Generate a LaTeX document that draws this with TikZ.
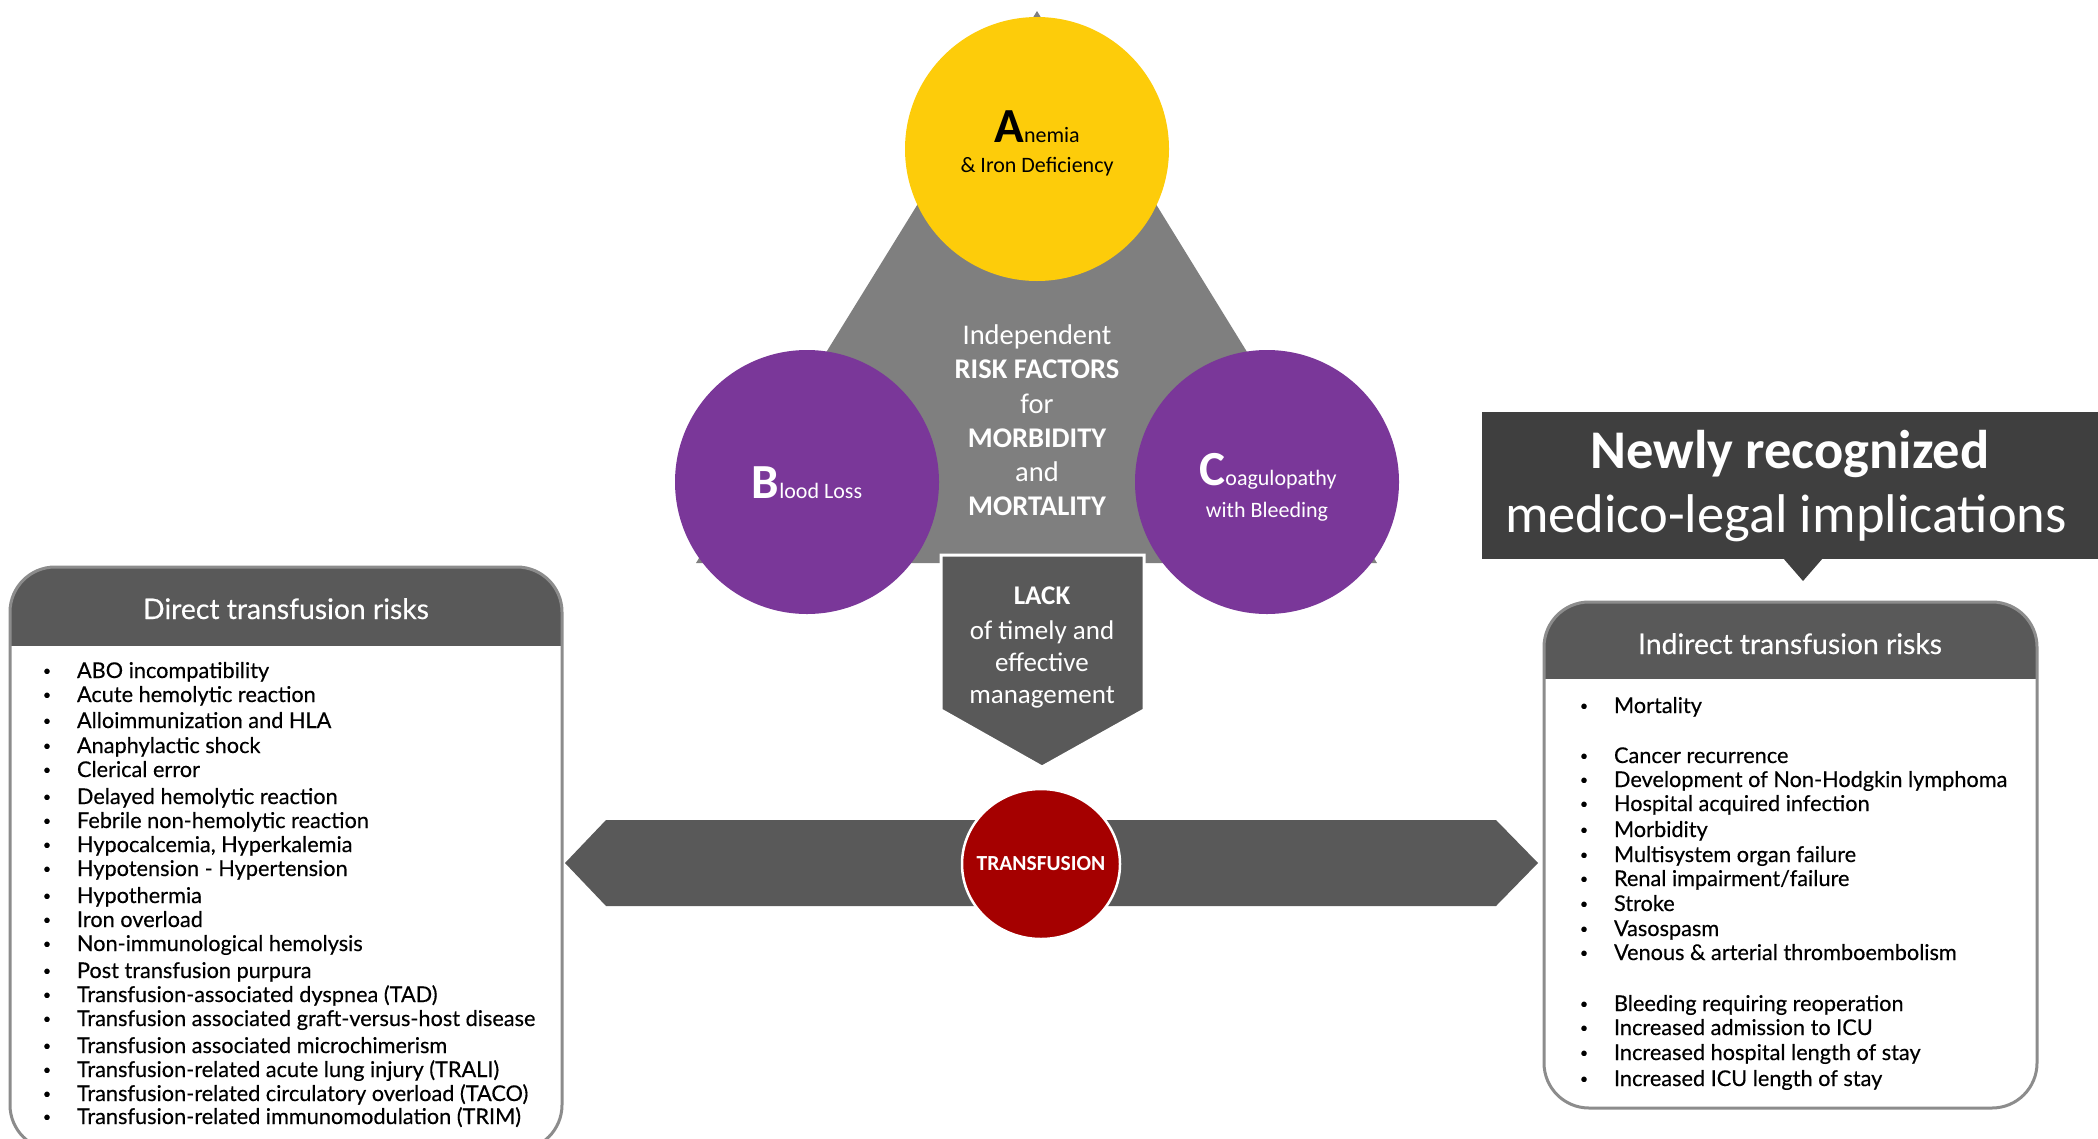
\documentclass[tikz,border=0pt]{standalone}
\usepackage{fontspec}
\setmainfont{Carlito}
\newfontfamily\listfont{Lato}[FakeBold=0.35]
\usetikzlibrary{shapes.geometric}
\definecolor{trigray}{HTML}{7F7F7F}
\definecolor{anemiayellow}{HTML}{FDCC0A}
\definecolor{riskpurple}{HTML}{7A3799}
\definecolor{darkbox}{HTML}{595959}
\definecolor{titlebox}{HTML}{3F3F3F}
\definecolor{framegray}{HTML}{8C8C8C}
\definecolor{bloodred}{HTML}{A50000}
\newcommand\fsz[1]{\fontsize{#1}{#1}\selectfont}

\begin{document}
\begin{tikzpicture}[x=1pt,y=-1pt,
  every node/.style={inner sep=0pt, outer sep=0pt},
  riskcircle/.style={circle, minimum size=264pt},
  ctext/.style={anchor=base, font=\fsz{28.5}, text=white},
  mtext/.style={anchor=base, font=\fsz{27}, text=white},
  bul/.style={anchor=base, font=\listfont\fsz{14}},
  item/.style={anchor=base west, font=\listfont\fsz{21.7}},
  headtext/.style={anchor=base, text=white, font=\listfont\fsz{28.3}},
  boxframe/.style={draw=framegray, line width=3pt, rounded corners=45pt}]
\useasboundingbox (0,0) rectangle (2098,1138);
\clip (0,0) rectangle (2098,1138);

% risk triangle with the three factors
\fill[trigray] (1037,11) -- (1377,563) -- (696,563) -- cycle;
\node[riskcircle, fill=anemiayellow] (anemia) at (1037,149) {};
\node[riskcircle, fill=riskpurple] (blood) at (807,482) {};
\node[riskcircle, fill=riskpurple] (coag) at (1267,482) {};

\node[anchor=base] (anemia1) at (1037,142) {{\bfseries\fsz{49}A}\fsz{22}nemia};
\node[anchor=base] (anemia2) at (1037,172) {\fsz{22}\& Iron Deficiency};
\node[anchor=base, text=white] (blood1) at (807,498) {{\bfseries\fsz{49}B}\fsz{22}lood Loss};
\node[anchor=base, text=white] (coag1) at (1268,485) {{\bfseries\fsz{49}C}\fsz{22}oagulopathy};
\node[anchor=base, text=white] (coag2) at (1267,517) {\fsz{22}with Bleeding};

\node[ctext] (r1) at (1037,344) {Independent};
\node[ctext] (r2) at (1037,378) {\bfseries RISK FACTORS};
\node[ctext] (r3) at (1037,413) {for};
\node[ctext] (r4) at (1037,447) {\bfseries MORBIDITY};
\node[ctext] (r5) at (1037,481) {and};
\node[ctext] (r6) at (1037,515) {\bfseries MORTALITY};

% lack of management arrow
\filldraw[fill=darkbox, draw=white, line width=3pt]
  (941,555) -- (1144,555) -- (1144,710) -- (1042,767) -- (941,710) -- cycle;
\node[mtext] (m1) at (1042,604) {\bfseries LACK};
\node[mtext] (m2) at (1042,639) {of timely and};
\node[mtext] (m3) at (1042,671) {effective};
\node[mtext] (m4) at (1042,703) {management};

% transfusion double arrow
\fill[darkbox] (565,863) -- (606,820) -- (1496,820) -- (1538,863) -- (1496,906) -- (606,906) -- cycle;
\node[ellipse, fill=bloodred, draw=white, line width=2.5pt, minimum width=158pt, minimum height=150pt]
  (transf) at (1041,864) {};
\node[text=white, font=\bfseries\fsz{21.5}] (transftext) at (transf.center) {TRANSFUSION};

% medico-legal banner
\fill[titlebox] (1482,412) rectangle (2098,559);
\fill[titlebox] (1783,558) -- (1823,558) -- (1803,581) -- cycle;
\node[anchor=base, text=white, font=\bfseries\fsz{54.5}] (newly) at (1790,468) {Newly recognized};
\node[anchor=base, text=white, font=\fsz{54.5}] (medico) at (1786,532) {medico-legal implications};

% direct risks box
\fill[white, rounded corners=45pt] (10,567) rectangle (562,1150);
\begin{scope}
  \clip[rounded corners=45pt] (10,567) rectangle (562,1150);
  \fill[darkbox] (10,567) rectangle (562,646);
\end{scope}
\draw[boxframe] (10,567) rectangle (562,1150);
\node[headtext] (dhead) at (286,619) {Direct transfusion risks};
\foreach \y/\t [count=\i] in {678/ABO incompatibility, 702/Acute hemolytic reaction,
  728/Alloimmunization and HLA, 753/Anaphylactic shock, 777/Clerical error,
  804/Delayed hemolytic reaction, 828/Febrile non-hemolytic reaction,
  852/{Hypocalcemia, Hyperkalemia}, 876/Hypotension - Hypertension, 903/Hypothermia,
  927/Iron overload, 951/Non-immunological hemolysis, 978/Post transfusion purpura,
  1002/Transfusion-associated dyspnea (TAD), 1026/Transfusion associated graft-versus-host disease,
  1053/Transfusion associated microchimerism, 1077/Transfusion-related acute lung injury (TRALI),
  1101/Transfusion-related circulatory overload (TACO), 1124/Transfusion-related immunomodulation (TRIM)}{
  \node[bul] (db\i) at (47,\y-2.5) {\textbullet};
  \node[item] (d\i) at (77,\y) {\t};
}

% indirect risks box
\fill[white, rounded corners=45pt] (1544,602) rectangle (2037,1108);
\begin{scope}
  \clip[rounded corners=45pt] (1544,602) rectangle (2037,1108);
  \fill[darkbox] (1544,602) rectangle (2037,679);
\end{scope}
\draw[boxframe] (1544,602) rectangle (2037,1108);
\node[headtext] (ihead) at (1790,654) {Indirect transfusion risks};
\foreach \y/\t [count=\i] in {713/Mortality, 763/Cancer recurrence,
  787/Development of Non-Hodgkin lymphoma, 811/Hospital acquired infection, 837/Morbidity,
  862/Multisystem organ failure, 886/{Renal impairment/failure}, 911/Stroke, 936/Vasospasm,
  960/Venous \& arterial thromboembolism, 1011/Bleeding requiring reoperation,
  1035/Increased admission to ICU, 1060/Increased hospital length of stay,
  1086/Increased ICU length of stay}{
  \node[bul] (ib\i) at (1584,\y-2.5) {\textbullet};
  \node[item] (i\i) at (1614,\y) {\t};
}
\end{tikzpicture}
\end{document}
